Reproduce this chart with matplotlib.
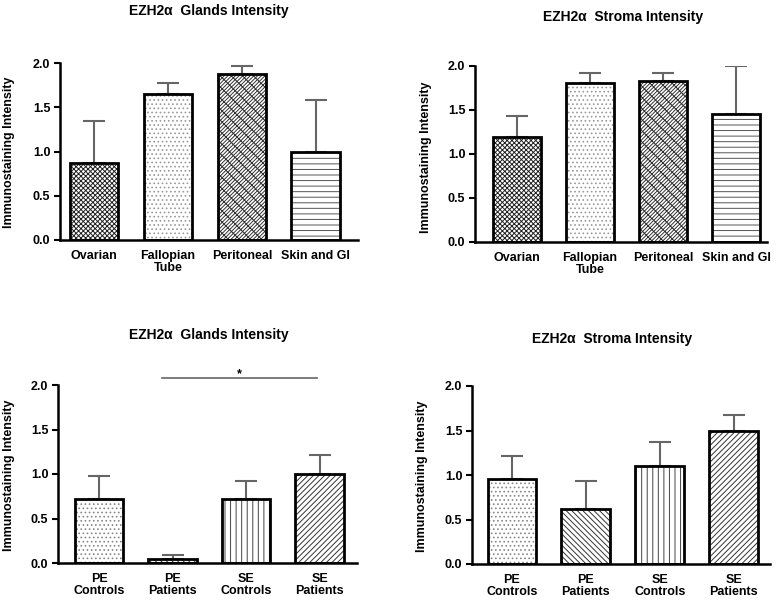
import matplotlib
matplotlib.use("Agg")
import matplotlib.pyplot as plt

plt.rcParams['font.family'] = ['Liberation Sans', 'DejaVu Sans']
plt.rcParams['font.weight'] = 'bold'
plt.rcParams['hatch.linewidth'] = 0.7

# Data
site_labels = ["Ovarian", "Fallopian\nTube", "Peritoneal", "Skin and GI"]
site_glands = [0.87, 1.65, 1.88, 1.00]
site_glands_err = [0.47, 0.12, 0.09, 0.58]
site_stroma = [1.19, 1.81, 1.83, 1.45]
site_stroma_err = [0.24, 0.11, 0.09, 0.55]

group_labels = ["PE\nControls", "PE\nPatients", "SE\nControls", "SE\nPatients"]
group_glands = [0.72, 0.05, 0.72, 1.00]
group_glands_err = [0.26, 0.04, 0.20, 0.21]
group_stroma = [0.95, 0.62, 1.10, 1.50]
group_stroma_err = [0.26, 0.31, 0.27, 0.17]

site_hatches = ["xxxxxxx", "....", "xxx//////", "---"]
group_hatches = ["....", "\\\\\\\\\\\\", "|||", "//////"]
site_hatch_colors = ["#222222", "#999999", "#333333", "#555555"]
group_hatch_colors = ["#888888", "#333333", "#444444", "#333333"]

W, H = 779, 601
fig = plt.figure(figsize=(W / 100, H / 100), dpi=100)


def px_axes(x0, x1, y_top, y_bot):
    return fig.add_axes([x0 / W, 1 - y_bot / H, (x1 - x0) / W, (y_bot - y_top) / H])


def draw_panel(ax, labels, vals, errs, hatches, hcolors, title, xlim, tx, ty):
    x = range(len(vals))
    for i in x:
        ax.bar(i, vals[i], width=0.66, color="white", edgecolor=hcolors[i],
               hatch=hatches[i], linewidth=0, zorder=2)
        ax.bar(i, vals[i], width=0.66, color="none", edgecolor="black",
               linewidth=2, zorder=3)
    ax.errorbar(list(x), vals, yerr=[[0] * len(errs), errs], fmt="none",
                ecolor="#666666", elinewidth=1.5, capsize=8, capthick=1.5, zorder=1)
    ax.set_xlim(*xlim)
    ax.set_ylim(0, 2.0)
    ax.set_yticks([0.0, 0.5, 1.0, 1.5, 2.0])
    ax.set_yticklabels(["0.0", "0.5", "1.0", "1.5", "2.0"], fontsize=9, fontweight="bold")
    ax.set_xticks(list(x))
    ax.set_xticklabels(labels, fontsize=9, fontweight="bold", linespacing=1.0)
    ax.tick_params(axis="x", length=0, pad=7)
    ax.tick_params(axis="y", length=4, width=1.5, pad=3)
    for s in ["top", "right"]:
        ax.spines[s].set_visible(False)
    for s in ["left", "bottom"]:
        ax.spines[s].set_linewidth(1.8)
    ax.set_ylabel("Immunostaining Intensity", fontsize=9, fontweight="bold")
    fig.text(tx / W, 1 - ty / H, title, ha="center", va="center",
             fontsize=10, fontweight="bold")


ax1 = px_axes(60, 358, 63, 240)
draw_panel(ax1, site_labels, site_glands, site_glands_err, site_hatches,
           site_hatch_colors, "EZH2α  Glands Intensity", (-0.46, 3.57), 209, 11)
ax1.yaxis.set_label_coords(-0.151, 0.497)

ax2 = px_axes(475, 767, 66, 242)
draw_panel(ax2, site_labels, site_stroma, site_stroma_err, site_hatches,
           site_hatch_colors, "EZH2α  Stroma Intensity", (-0.575, 3.42), 623, 17)
ax2.yaxis.set_label_coords(-0.147, 0.48)

ax3 = px_axes(58, 357, 385, 563)
draw_panel(ax3, group_labels, group_glands, group_glands_err, group_hatches,
           group_hatch_colors, "EZH2α  Glands Intensity", (-0.56, 3.51), 209, 335)
ax3.yaxis.set_label_coords(-0.144, 0.494)
ax3.plot([0.85, 2.97], [2.08, 2.08], color="#666666", lw=1.2, clip_on=False)
ax3.text(1.91, 2.12, "*", ha="center", va="center", fontsize=9, fontweight="bold")

ax4 = px_axes(472, 770, 386, 564)
draw_panel(ax4, group_labels, group_stroma, group_stroma_err, group_hatches,
           group_hatch_colors, "EZH2α  Stroma Intensity", (-0.54, 3.49), 612, 339)
ax4.yaxis.set_label_coords(-0.148, 0.494)

fig.savefig("out.png", dpi=100, facecolor="white")
